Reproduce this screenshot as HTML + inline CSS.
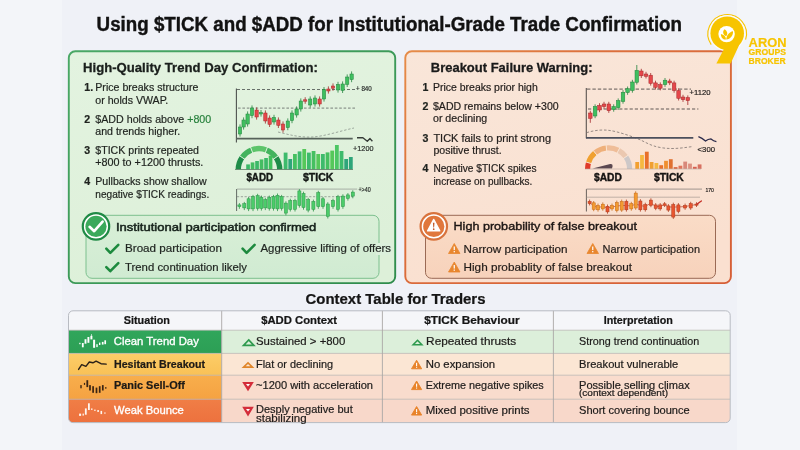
<!DOCTYPE html>
<html lang="en"><head><meta charset="utf-8"><title>Using $TICK and $ADD for Institutional-Grade Trade Confirmation</title>
<style>
html,body{margin:0;padding:0;background:#f2f4f8;}
body{width:800px;height:450px;overflow:hidden;}
svg{display:block;font-family:'Liberation Sans', Arial, sans-serif;}
</style></head>
<body>
<svg width="800" height="450" viewBox="0 0 800 450">
<defs>
<linearGradient id="bg" x1="0" y1="0" x2="1" y2="0"><stop offset="0" stop-color="#f6f7fa"/><stop offset="1" stop-color="#eff2f8"/></linearGradient>
<linearGradient id="gpan" x1="0" y1="0" x2="0.3" y2="1"><stop offset="0" stop-color="#e3f3e0"/><stop offset="1" stop-color="#ddf0d9"/></linearGradient>
<linearGradient id="opan" x1="0" y1="0" x2="0.3" y2="1"><stop offset="0" stop-color="#f9e6d9"/><stop offset="1" stop-color="#fae0d0"/></linearGradient>
<linearGradient id="ostroke" x1="0" y1="0" x2="1" y2="1"><stop offset="0" stop-color="#e68c48"/><stop offset="0.3" stop-color="#dc703c"/><stop offset="1" stop-color="#d65e36"/></linearGradient>
<linearGradient id="gstroke" x1="0" y1="0" x2="1" y2="1"><stop offset="0" stop-color="#4aa866"/><stop offset="1" stop-color="#2f8c4c"/></linearGradient>
<linearGradient id="ginner" x1="0" y1="0" x2="0" y2="1"><stop offset="0" stop-color="#d9efd7"/><stop offset="1" stop-color="#d0ebd2"/></linearGradient>
<linearGradient id="oinner" x1="0" y1="0" x2="0" y2="1"><stop offset="0" stop-color="#fadcc7"/><stop offset="1" stop-color="#f7d2bb"/></linearGradient>
<linearGradient id="r1" x1="0" y1="0" x2="0" y2="1"><stop offset="0" stop-color="#31a65b"/><stop offset="1" stop-color="#2c9f55"/></linearGradient>
<linearGradient id="r2" x1="0" y1="0" x2="0" y2="1"><stop offset="0" stop-color="#fccd68"/><stop offset="1" stop-color="#f9c156"/></linearGradient>
<linearGradient id="r3" x1="0" y1="0" x2="0" y2="1"><stop offset="0" stop-color="#f8ae4c"/><stop offset="1" stop-color="#f5a242"/></linearGradient>
<linearGradient id="r4" x1="0" y1="0" x2="0" y2="1"><stop offset="0" stop-color="#f07e46"/><stop offset="1" stop-color="#ed713e"/></linearGradient>
</defs>
<rect x="0" y="0" width="800" height="450" fill="#f3f5f9"/>
<rect x="62" y="0" width="675" height="450" fill="#eff1f7"/>
<text x="96.6" y="30.9" font-size="19.5" font-weight="700" fill="#121212" stroke="#121212" stroke-width="0.4" textLength="585.4" lengthAdjust="spacingAndGlyphs" text-anchor="start" >Using $TICK and $ADD for Institutional-Grade Trade Confirmation</text>
<rect x="68.8" y="51.3" width="326.4" height="231.8" rx="6.5" fill="url(#gpan)" stroke="url(#gstroke)" stroke-width="1.9"/>
<rect x="405.3" y="51.3" width="325.6" height="231.8" rx="6.5" fill="url(#opan)" stroke="url(#ostroke)" stroke-width="1.9"/>
<text x="83" y="71.6" font-size="13.5" font-weight="700" fill="#1a1f1c" stroke="#1a1f1c" stroke-width="0.3" textLength="235.0" lengthAdjust="spacingAndGlyphs" text-anchor="start" >High-Quality Trend Day Confirmation:</text>
<text x="430.8" y="71.6" font-size="13.6" font-weight="700" fill="#1a1a1a" stroke="#1a1a1a" stroke-width="0.3" textLength="161.7" lengthAdjust="spacingAndGlyphs" text-anchor="start" >Breakout Failure Warning:</text>
<text x="84.3" y="91.3" font-size="10.6" font-weight="700" fill="#1f231f" stroke="#1f231f" stroke-width="0.22" text-anchor="start" >1.</text>
<text x="95.3" y="91.3" font-size="10.6" font-weight="400" fill="#1f231f" stroke="#1f231f" stroke-width="0.2" textLength="103.1" lengthAdjust="spacingAndGlyphs" text-anchor="start" >Price breaks structure</text>
<text x="95.3" y="104.1" font-size="10.6" font-weight="400" fill="#1f231f" stroke="#1f231f" stroke-width="0.2" text-anchor="start" >or holds VWAP.</text>
<text x="84.3" y="122.8" font-size="10.6" font-weight="700" fill="#1f231f" stroke="#1f231f" stroke-width="0.22" text-anchor="start" >2</text>
<text x="95.3" y="122.8" font-size="10.6" fill="#1f231f" stroke="#1f231f" stroke-width="0.18" textLength="115.9" lengthAdjust="spacingAndGlyphs">$ADD holds above <tspan fill="#27803c" stroke="#27803c">+800</tspan></text>
<text x="95.3" y="135.2" font-size="10.6" font-weight="400" fill="#1f231f" stroke="#1f231f" stroke-width="0.2" text-anchor="start" >and trends higher.</text>
<text x="84.3" y="153.9" font-size="10.6" font-weight="700" fill="#1f231f" stroke="#1f231f" stroke-width="0.22" text-anchor="start" >3</text>
<text x="95.3" y="153.9" font-size="10.6" font-weight="400" fill="#1f231f" stroke="#1f231f" stroke-width="0.2" text-anchor="start" >$TICK prints repeated</text>
<text x="95.3" y="166.3" font-size="10.6" font-weight="400" fill="#1f231f" stroke="#1f231f" stroke-width="0.2" textLength="108.0" lengthAdjust="spacingAndGlyphs" text-anchor="start" >+800 to +1200 thrusts.</text>
<text x="84.3" y="185.4" font-size="10.6" font-weight="700" fill="#1f231f" stroke="#1f231f" stroke-width="0.22" text-anchor="start" >4</text>
<text x="95.3" y="185.4" font-size="10.6" font-weight="400" fill="#1f231f" stroke="#1f231f" stroke-width="0.2" text-anchor="start" >Pullbacks show shallow</text>
<text x="95.3" y="197.8" font-size="10.6" font-weight="400" fill="#1f231f" stroke="#1f231f" stroke-width="0.2" textLength="113.9" lengthAdjust="spacingAndGlyphs" text-anchor="start" >negative $TICK readings.</text>
<text x="422.5" y="90.6" font-size="10.6" font-weight="700" fill="#1f231f" stroke="#1f231f" stroke-width="0.22" text-anchor="start" >1</text>
<text x="433" y="90.6" font-size="10.6" font-weight="400" fill="#211d1b" stroke="#211d1b" stroke-width="0.2" textLength="104.7" lengthAdjust="spacingAndGlyphs" text-anchor="start" >Price breaks prior high</text>
<text x="422.5" y="109.8" font-size="10.6" font-weight="700" fill="#1f231f" stroke="#1f231f" stroke-width="0.22" text-anchor="start" >2</text>
<text x="433" y="109.8" font-size="10.6" font-weight="400" fill="#211d1b" stroke="#211d1b" stroke-width="0.2" textLength="125.6" lengthAdjust="spacingAndGlyphs" text-anchor="start" >$ADD remains below +300</text>
<text x="433" y="122.1" font-size="10.6" font-weight="400" fill="#211d1b" stroke="#211d1b" stroke-width="0.2" text-anchor="start" >or declining</text>
<text x="422.5" y="141.6" font-size="10.6" font-weight="700" fill="#1f231f" stroke="#1f231f" stroke-width="0.22" text-anchor="start" >3</text>
<text x="433.4" y="141.6" font-size="10.6" font-weight="400" fill="#211d1b" stroke="#211d1b" stroke-width="0.2" textLength="117.6" lengthAdjust="spacingAndGlyphs" text-anchor="start" >TICK fails to print strong</text>
<text x="433.4" y="153.6" font-size="10.6" font-weight="400" fill="#211d1b" stroke="#211d1b" stroke-width="0.2" text-anchor="start" >positive thrust.</text>
<text x="422.5" y="172.4" font-size="10.6" font-weight="700" fill="#1f231f" stroke="#1f231f" stroke-width="0.22" text-anchor="start" >4</text>
<text x="433.4" y="172.4" font-size="10.6" font-weight="400" fill="#211d1b" stroke="#211d1b" stroke-width="0.2" textLength="103.2" lengthAdjust="spacingAndGlyphs" text-anchor="start" >Negative $TICK spikes</text>
<text x="433.4" y="185" font-size="10.6" font-weight="400" fill="#211d1b" stroke="#211d1b" stroke-width="0.2" textLength="99.0" lengthAdjust="spacingAndGlyphs" text-anchor="start" >increase on pullbacks.</text>
<rect x="86" y="215.3" width="293" height="63" rx="6" fill="url(#ginner)" stroke="#7cc08e" stroke-width="1"/>
<rect x="425.5" y="215.3" width="290" height="63" rx="6" fill="url(#oinner)" stroke="#9a6a55" stroke-width="1"/>
<rect x="376" y="243" width="16" height="12" fill="#dcf0dc"/>
<circle cx="96" cy="226.4" r="13.2" fill="#ffffff" stroke="#1f8a45" stroke-width="2.2"/>
<circle cx="96" cy="226.4" r="10.6" fill="#3aa95b"/>
<path d="M89.6 226.8 L94.2 231.2 L102.6 221.6" fill="none" stroke="#fff" stroke-width="2.6" stroke-linecap="round" stroke-linejoin="round"/>
<text x="116" y="230.8" font-size="11.7" font-weight="400" fill="#15211a" stroke="#15211a" stroke-width="0.5" textLength="200.3" lengthAdjust="spacingAndGlyphs" text-anchor="start" >Institutional participation confirmed</text>
<path d="M106.3 248.7 L110.3 252.79999999999998 L118.3 244.79999999999998" fill="none" stroke="#1d8a3e" stroke-width="2.6" stroke-linecap="round" stroke-linejoin="round"/>
<text x="125" y="252.3" font-size="11.2" font-weight="400" fill="#1f2420" stroke="#1f2420" stroke-width="0.2" textLength="97.0" lengthAdjust="spacingAndGlyphs" text-anchor="start" >Broad participation</text>
<path d="M242.6 248.7 L246.6 252.79999999999998 L254.6 244.79999999999998" fill="none" stroke="#1d8a3e" stroke-width="2.6" stroke-linecap="round" stroke-linejoin="round"/>
<text x="260.5" y="252.3" font-size="11.2" font-weight="400" fill="#1f2420" stroke="#1f2420" stroke-width="0.2" textLength="130.5" lengthAdjust="spacingAndGlyphs" text-anchor="start" >Aggressive lifting of offers</text>
<path d="M106.3 267.1 L110.3 271.20000000000005 L118.3 263.20000000000005" fill="none" stroke="#1d8a3e" stroke-width="2.6" stroke-linecap="round" stroke-linejoin="round"/>
<text x="125" y="270.6" font-size="11.2" font-weight="400" fill="#1f2420" stroke="#1f2420" stroke-width="0.2" textLength="122.0" lengthAdjust="spacingAndGlyphs" text-anchor="start" >Trend continuation likely</text>
<circle cx="433.8" cy="226.4" r="13.2" fill="#fff" stroke="#d8733d" stroke-width="2.2"/>
<circle cx="433.8" cy="226.4" r="10.6" fill="#e0773c"/>
<path d="M433.7 219.4 L439.8 230.9 L427.6 230.9 Z" fill="#fff" stroke="#fff" stroke-width="1.3" stroke-linejoin="round"/>
<path d="M432.9 222.8 L434.5 222.8 L434.1 227.6 L433.3 227.6 Z" fill="#c25a2a"/><circle cx="433.7" cy="229.2" r="0.85" fill="#c25a2a"/>
<text x="453.5" y="230.2" font-size="11.7" font-weight="400" fill="#1c1614" stroke="#1c1614" stroke-width="0.38" textLength="183.5" lengthAdjust="spacingAndGlyphs" text-anchor="start" >High probability of false breakout</text>
<path d="M454.25 243.5 L460.0 253.5 L448.5 253.5 Z" fill="#e8862e" stroke="#e8862e" stroke-width="0.8" stroke-linejoin="round"/>
<rect x="453.65" y="246.5" width="1.2" height="3.6" fill="#fff"/><rect x="453.65" y="251.0" width="1.2" height="1.3" fill="#fff"/>
<text x="463.5" y="252.5" font-size="11.2" font-weight="400" fill="#231d1a" stroke="#231d1a" stroke-width="0.2" textLength="104.0" lengthAdjust="spacingAndGlyphs" text-anchor="start" >Narrow participation</text>
<path d="M592.75 243.5 L598.5 253.5 L587 253.5 Z" fill="#e8862e" stroke="#e8862e" stroke-width="0.8" stroke-linejoin="round"/>
<rect x="592.15" y="246.5" width="1.2" height="3.6" fill="#fff"/><rect x="592.15" y="251.0" width="1.2" height="1.3" fill="#fff"/>
<text x="602.5" y="252.5" font-size="11.2" font-weight="400" fill="#231d1a" stroke="#231d1a" stroke-width="0.2" textLength="97.5" lengthAdjust="spacingAndGlyphs" text-anchor="start" >Narrow participation</text>
<path d="M454.25 262 L460.0 272 L448.5 272 Z" fill="#e8862e" stroke="#e8862e" stroke-width="0.8" stroke-linejoin="round"/>
<rect x="453.65" y="265" width="1.2" height="3.6" fill="#fff"/><rect x="453.65" y="269.5" width="1.2" height="1.3" fill="#fff"/>
<text x="463.5" y="271" font-size="11.2" font-weight="400" fill="#231d1a" stroke="#231d1a" stroke-width="0.2" textLength="168.5" lengthAdjust="spacingAndGlyphs" text-anchor="start" >High probablity of false breakout</text>
<text x="305.5" y="303.5" font-size="14.2" font-weight="700" fill="#151515" stroke="#151515" stroke-width="0.22" textLength="180.0" lengthAdjust="spacingAndGlyphs" text-anchor="start" >Context Table for Traders</text>
<clipPath id="tclip"><rect x="68.5" y="310.8" width="661.7" height="111.80000000000001" rx="4.5"/></clipPath>
<g clip-path="url(#tclip)">
<rect x="68.5" y="310.8" width="661.7" height="19.399999999999977" fill="#f5f6f9"/>
<rect x="68.5" y="330.2" width="153.2" height="23.19999999999999" fill="url(#r1)"/>
<rect x="221.7" y="330.2" width="508.50000000000006" height="23.19999999999999" fill="#dcefda"/>
<rect x="68.5" y="353.4" width="153.2" height="21.80000000000001" fill="url(#r2)"/>
<rect x="221.7" y="353.4" width="508.50000000000006" height="21.80000000000001" fill="#fbe6d4"/>
<rect x="68.5" y="375.2" width="153.2" height="24.0" fill="url(#r3)"/>
<rect x="221.7" y="375.2" width="508.50000000000006" height="24.0" fill="#f9dccd"/>
<rect x="68.5" y="399.2" width="153.2" height="23.400000000000034" fill="url(#r4)"/>
<rect x="221.7" y="399.2" width="508.50000000000006" height="23.400000000000034" fill="#f8d8ca"/>
</g>
<line x1="68.5" y1="330.2" x2="730.2" y2="330.2" stroke="#b9b4b0" stroke-width="0.9" opacity="0.8"/>
<line x1="68.5" y1="353.4" x2="730.2" y2="353.4" stroke="#b9b4b0" stroke-width="0.9" opacity="0.8"/>
<line x1="68.5" y1="375.2" x2="730.2" y2="375.2" stroke="#b9b4b0" stroke-width="0.9" opacity="0.8"/>
<line x1="68.5" y1="399.2" x2="730.2" y2="399.2" stroke="#b9b4b0" stroke-width="0.9" opacity="0.8"/>
<line x1="221.7" y1="310.8" x2="221.7" y2="422.6" stroke="#aaa7a5" stroke-width="0.9"/>
<line x1="382.4" y1="310.8" x2="382.4" y2="422.6" stroke="#aaa7a5" stroke-width="0.9"/>
<line x1="553.4" y1="310.8" x2="553.4" y2="422.6" stroke="#aaa7a5" stroke-width="0.9"/>
<rect x="68.5" y="310.8" width="661.7" height="111.80000000000001" rx="4.5" fill="none" stroke="#b8bbc2" stroke-width="1"/>
<text x="123.7" y="323.6" font-size="10.5" font-weight="700" fill="#161616" stroke="#161616" stroke-width="0.22" textLength="46.3" lengthAdjust="spacingAndGlyphs" text-anchor="start" >Situation</text>
<text x="261.2" y="323.6" font-size="10.5" font-weight="700" fill="#161616" stroke="#161616" stroke-width="0.22" textLength="75.8" lengthAdjust="spacingAndGlyphs" text-anchor="start" >$ADD Context</text>
<text x="424.3" y="323.6" font-size="10.5" font-weight="700" fill="#161616" stroke="#161616" stroke-width="0.22" textLength="95.2" lengthAdjust="spacingAndGlyphs" text-anchor="start" >$TICK Behaviour</text>
<text x="603.7" y="323.6" font-size="10.5" font-weight="700" fill="#161616" stroke="#161616" stroke-width="0.22" textLength="69.1" lengthAdjust="spacingAndGlyphs" text-anchor="start" >Interpretation</text>
<text x="113.8" y="345.3" font-size="11.2" font-weight="400" fill="#ffffff" stroke="#ffffff" stroke-width="0.32" textLength="85.0" lengthAdjust="spacingAndGlyphs" text-anchor="start" >Clean Trend Day</text>
<text x="114" y="367.5" font-size="10.9" font-weight="700" fill="#1d1a16" stroke="#1d1a16" stroke-width="0.22" textLength="91.1" lengthAdjust="spacingAndGlyphs" text-anchor="start" >Hesitant Breakout</text>
<text x="114" y="389" font-size="10.9" font-weight="700" fill="#1d1a16" stroke="#1d1a16" stroke-width="0.22" textLength="70.9" lengthAdjust="spacingAndGlyphs" text-anchor="start" >Panic Sell-Off</text>
<text x="114" y="413.8" font-size="11.2" font-weight="400" fill="#ffffff" stroke="#ffffff" stroke-width="0.32" textLength="69.8" lengthAdjust="spacingAndGlyphs" text-anchor="start" >Weak Bounce</text>
<rect x="79.25" y="342.80" width="1.3" height="1.40" fill="#ffffff"/>
<rect x="81.90" y="343.00" width="1.8" height="4.30" fill="#ffffff"/>
<rect x="84.55" y="339.20" width="1.9" height="4.50" fill="#ffffff"/>
<rect x="87.45" y="337.00" width="1.9" height="5.80" fill="#ffffff"/>
<rect x="90.40" y="335.80" width="2" height="3.60" fill="#ffffff"/>
<rect x="91.10" y="334.00" width="0.6" height="2.00" fill="#ffffff"/>
<rect x="93.10" y="339.70" width="2" height="8.10" fill="#ffffff"/>
<rect x="96.30" y="344.20" width="1.4" height="2.90" fill="#ffffff"/>
<rect x="99.00" y="342.60" width="1.4" height="2.40" fill="#ffffff"/>
<rect x="101.85" y="341.90" width="1.7" height="2.70" fill="#ffffff"/>
<rect x="104.35" y="340.30" width="1.7" height="3.90" fill="#ffffff"/>
<path d="M78.6 369.4 L81.7 364.6 L85.9 366.4 L89.3 362 L92.9 362.8 L96.1 361.1 L101 363.7 L106.2 364.1" fill="none" stroke="#2b2118" stroke-width="1.4" stroke-linejoin="round" stroke-linecap="round"/>
<rect x="80.30" y="385.10" width="1.4" height="3.20" fill="#3a2413"/>
<rect x="83.90" y="382.90" width="1.2" height="2.00" fill="#3a2413"/>
<rect x="86.40" y="380.20" width="1.8" height="6.90" fill="#3a2413"/>
<rect x="89.15" y="385.10" width="1.7" height="5.40" fill="#3a2413"/>
<rect x="92.25" y="386.20" width="1.7" height="6.60" fill="#3a2413"/>
<rect x="95.65" y="387.60" width="1.7" height="5.60" fill="#3a2413"/>
<rect x="98.85" y="386.20" width="1.7" height="6.60" fill="#3a2413"/>
<rect x="101.95" y="385.10" width="1.7" height="5.40" fill="#3a2413"/>
<rect x="105.15" y="387.10" width="1.3" height="1.60" fill="#3a2413"/>
<rect x="79.10" y="413.60" width="2" height="2.30" fill="#fff6ee"/>
<rect x="82.55" y="413.60" width="1.3" height="2.00" fill="#fff6ee"/>
<rect x="84.90" y="408.40" width="1.8" height="6.30" fill="#fff6ee"/>
<rect x="88.00" y="403.30" width="1.8" height="6.70" fill="#fff6ee"/>
<rect x="91.15" y="408.40" width="1.3" height="1.60" fill="#fff6ee"/>
<rect x="94.20" y="409.60" width="1.4" height="1.30" fill="#fff6ee"/>
<rect x="97.35" y="410.00" width="1.5" height="2.00" fill="#fff6ee"/>
<rect x="100.50" y="410.90" width="1.6" height="3.20" fill="#fff6ee"/>
<rect x="104.15" y="412.50" width="1.5" height="1.10" fill="#fff6ee"/>
<path d="M248.7 339.95000000000005 L253.85000000000002 345.34999999999997 L243.54999999999998 345.34999999999997 Z" fill="none" stroke="#2e9a4e" stroke-width="1.7" stroke-linejoin="miter"/>
<text x="256" y="345" font-size="11.1" font-weight="400" fill="#1d1b1a" stroke="#1d1b1a" stroke-width="0.2" textLength="89.3" lengthAdjust="spacingAndGlyphs" text-anchor="start" >Sustained &gt; +800</text>
<path d="M248.0 362.8 L252.5 367.09999999999997 L243.5 367.09999999999997 Z" fill="none" stroke="#e0862a" stroke-width="1.6" stroke-linejoin="miter"/>
<text x="256" y="367.6" font-size="11.1" font-weight="400" fill="#1d1b1a" stroke="#1d1b1a" stroke-width="0.2" textLength="77.2" lengthAdjust="spacingAndGlyphs" text-anchor="start" >Flat or declining</text>
<path d="M242.2 382 L253.79999999999998 382 L248.0 391.2 Z" fill="#d42d3a"/>
<path d="M246.028 384.024 L249.97199999999998 384.024 L248.0 386.416 Z" fill="#fff"/>
<text x="256" y="388.7" font-size="11.1" font-weight="400" fill="#1d1b1a" stroke="#1d1b1a" stroke-width="0.2" textLength="117.0" lengthAdjust="spacingAndGlyphs" text-anchor="start" >~1200 with acceleration</text>
<path d="M242.2 406.8 L253.79999999999998 406.8 L248.0 416.40000000000003 Z" fill="#d42d3a"/>
<path d="M246.028 408.91200000000003 L249.97199999999998 408.91200000000003 L248.0 411.408 Z" fill="#fff"/>
<text x="256" y="413.1" font-size="11.1" font-weight="400" fill="#1d1b1a" stroke="#1d1b1a" stroke-width="0.2" textLength="96.8" lengthAdjust="spacingAndGlyphs" text-anchor="start" >Desply negative but</text>
<text x="256" y="421.7" font-size="11.1" font-weight="400" fill="#1d1b1a" stroke="#1d1b1a" stroke-width="0.2" textLength="50.6" lengthAdjust="spacingAndGlyphs" text-anchor="start" >stabilizing</text>
<path d="M417.5 340.3 L421.8 344.7 L413.2 344.7 Z" fill="none" stroke="#2e9a4e" stroke-width="1.6" stroke-linejoin="miter"/>
<text x="426.1" y="345" font-size="11.1" font-weight="400" fill="#1d1b1a" stroke="#1d1b1a" stroke-width="0.2" textLength="90.0" lengthAdjust="spacingAndGlyphs" text-anchor="start" >Repeated thrusts</text>
<path d="M416.6 360.2 L421.7 368.8 L411.5 368.8 Z" fill="#e8832a" stroke="#e8832a" stroke-width="0.9" stroke-linejoin="round"/>
<rect x="416.05" y="362.8" width="1.1" height="3.2" fill="#fff"/><rect x="416.05" y="366.7" width="1.1" height="1.1" fill="#fff"/>
<text x="425.7" y="367.6" font-size="11.1" font-weight="400" fill="#1d1b1a" stroke="#1d1b1a" stroke-width="0.2" textLength="69.5" lengthAdjust="spacingAndGlyphs" text-anchor="start" >No expansion</text>
<path d="M416.6 381 L421.7 389.6 L411.5 389.6 Z" fill="#e8832a" stroke="#e8832a" stroke-width="0.9" stroke-linejoin="round"/>
<rect x="416.05" y="383.6" width="1.1" height="3.2" fill="#fff"/><rect x="416.05" y="387.5" width="1.1" height="1.1" fill="#fff"/>
<text x="425.7" y="388.7" font-size="11.1" font-weight="400" fill="#1d1b1a" stroke="#1d1b1a" stroke-width="0.2" textLength="118.1" lengthAdjust="spacingAndGlyphs" text-anchor="start" >Extreme negative spikes</text>
<path d="M416.6 406.5 L421.7 415.1 L411.5 415.1 Z" fill="#e8832a" stroke="#e8832a" stroke-width="0.9" stroke-linejoin="round"/>
<rect x="416.05" y="409.1" width="1.1" height="3.2" fill="#fff"/><rect x="416.05" y="413.0" width="1.1" height="1.1" fill="#fff"/>
<text x="425.7" y="414" font-size="11.1" font-weight="400" fill="#1d1b1a" stroke="#1d1b1a" stroke-width="0.2" textLength="103.9" lengthAdjust="spacingAndGlyphs" text-anchor="start" >Mixed positive prints</text>
<text x="579" y="344.9" font-size="11.1" font-weight="400" fill="#1d1b1a" stroke="#1d1b1a" stroke-width="0.2" textLength="120.2" lengthAdjust="spacingAndGlyphs" text-anchor="start" >Strong trend continuation</text>
<text x="579" y="367.8" font-size="11.1" font-weight="400" fill="#1d1b1a" stroke="#1d1b1a" stroke-width="0.2" textLength="99.3" lengthAdjust="spacingAndGlyphs" text-anchor="start" >Breakout vulnerable</text>
<text x="579" y="388.5" font-size="11.1" font-weight="400" fill="#1d1b1a" stroke="#1d1b1a" stroke-width="0.2" textLength="110.7" lengthAdjust="spacingAndGlyphs" text-anchor="start" >Possible selling climax</text>
<text x="579" y="396.4" font-size="8.6" font-weight="400" fill="#1d1b1a" stroke="#1d1b1a" stroke-width="0.2" textLength="89.0" lengthAdjust="spacingAndGlyphs" text-anchor="start" >(context dependent)</text>
<text x="579" y="414.1" font-size="11.1" font-weight="400" fill="#1d1b1a" stroke="#1d1b1a" stroke-width="0.2" textLength="110.7" lengthAdjust="spacingAndGlyphs" text-anchor="start" >Short covering bounce</text>
<line x1="236.4" y1="88.5" x2="236.4" y2="142.5" stroke="#4d524f" stroke-width="1.1"/>
<line x1="237" y1="89.5" x2="355" y2="89.5" stroke="#59605b" stroke-width="0.9" stroke-dasharray="3 2"/>
<line x1="238" y1="108.1" x2="355" y2="108.1" stroke="#6c726e" stroke-width="0.9" stroke-dasharray="2.6 1.8"/>
<path d="M278 132 C 290 135, 300 137.5, 312 137 S 340 131, 354 128" fill="none" stroke="#8a938c" stroke-width="0.8" stroke-dasharray="2.4 1.8"/>
<line x1="236" y1="138.6" x2="352.7" y2="138.6" stroke="#56625a" stroke-width="1.8"/>
<path d="M357 137.8 L362.9 137.8 L367.3 141.3 L370 138.6 L372.4 141.3" fill="none" stroke="#353b37" stroke-width="1.4" stroke-linejoin="round"/>
<text x="356" y="91.3" font-size="6.6" font-weight="400" fill="#2b2f2c" stroke="#2b2f2c" stroke-width="0.2" textLength="15.8" lengthAdjust="spacingAndGlyphs" text-anchor="start" >+ 840</text>
<text x="353.1" y="151.4" font-size="7.3" font-weight="400" fill="#2b2f2c" stroke="#2b2f2c" stroke-width="0.2" textLength="20.4" lengthAdjust="spacingAndGlyphs" text-anchor="start" >+1200</text>
<line x1="240" y1="124.4" x2="240" y2="136.6" stroke="#23843d" stroke-width="0.8"/>
<rect x="238.35" y="127.00" width="3.3" height="7.00" fill="#3fbf5f" stroke="#23843d" stroke-width="0.5"/>
<line x1="243.6" y1="117.4" x2="243.6" y2="129.6" stroke="#23843d" stroke-width="0.8"/>
<rect x="241.95" y="120.00" width="3.3" height="7.00" fill="#3fbf5f" stroke="#23843d" stroke-width="0.5"/>
<line x1="247.6" y1="111.4" x2="247.6" y2="126.6" stroke="#23843d" stroke-width="0.8"/>
<rect x="245.95" y="114.00" width="3.3" height="10.00" fill="#3fbf5f" stroke="#23843d" stroke-width="0.5"/>
<line x1="252" y1="105.4" x2="252" y2="118.2" stroke="#23843d" stroke-width="0.8"/>
<rect x="250.35" y="108.00" width="3.3" height="7.60" fill="#3fbf5f" stroke="#23843d" stroke-width="0.5"/>
<line x1="256.6" y1="107.4" x2="256.6" y2="119.6" stroke="#a3282b" stroke-width="0.8"/>
<rect x="254.95" y="110.00" width="3.3" height="7.00" fill="#e5474a" stroke="#a3282b" stroke-width="0.5"/>
<line x1="261" y1="110.0" x2="261" y2="116.6" stroke="#23843d" stroke-width="0.8"/>
<rect x="259.35" y="112.60" width="3.3" height="1.40" fill="#3fbf5f" stroke="#23843d" stroke-width="0.5"/>
<line x1="265.4" y1="110.4" x2="265.4" y2="123.6" stroke="#a3282b" stroke-width="0.8"/>
<rect x="263.75" y="113.00" width="3.3" height="8.00" fill="#e5474a" stroke="#a3282b" stroke-width="0.5"/>
<line x1="269.6" y1="115.4" x2="269.6" y2="127.0" stroke="#a3282b" stroke-width="0.8"/>
<rect x="267.95" y="118.00" width="3.3" height="6.40" fill="#e5474a" stroke="#a3282b" stroke-width="0.5"/>
<line x1="274" y1="114.8" x2="274" y2="124.6" stroke="#23843d" stroke-width="0.8"/>
<rect x="272.35" y="117.40" width="3.3" height="4.60" fill="#3fbf5f" stroke="#23843d" stroke-width="0.5"/>
<line x1="278.4" y1="117.4" x2="278.4" y2="128.0" stroke="#a3282b" stroke-width="0.8"/>
<rect x="276.75" y="120.00" width="3.3" height="5.40" fill="#e5474a" stroke="#a3282b" stroke-width="0.5"/>
<line x1="283" y1="121.4" x2="283" y2="132.6" stroke="#a3282b" stroke-width="0.8"/>
<rect x="281.35" y="124.00" width="3.3" height="6.00" fill="#e5474a" stroke="#a3282b" stroke-width="0.5"/>
<line x1="287.8" y1="118.4" x2="287.8" y2="130.2" stroke="#23843d" stroke-width="0.8"/>
<rect x="286.15" y="121.00" width="3.3" height="6.60" fill="#3fbf5f" stroke="#23843d" stroke-width="0.5"/>
<line x1="292" y1="110.4" x2="292" y2="123.2" stroke="#23843d" stroke-width="0.8"/>
<rect x="290.35" y="113.00" width="3.3" height="7.60" fill="#3fbf5f" stroke="#23843d" stroke-width="0.5"/>
<line x1="296.6" y1="106.4" x2="296.6" y2="117.6" stroke="#23843d" stroke-width="0.8"/>
<rect x="294.95" y="109.00" width="3.3" height="6.00" fill="#3fbf5f" stroke="#23843d" stroke-width="0.5"/>
<line x1="300.8" y1="98.4" x2="300.8" y2="111.6" stroke="#23843d" stroke-width="0.8"/>
<rect x="299.15" y="101.00" width="3.3" height="8.00" fill="#3fbf5f" stroke="#23843d" stroke-width="0.5"/>
<line x1="305.2" y1="97.2" x2="305.2" y2="103.8" stroke="#a3282b" stroke-width="0.8"/>
<rect x="303.55" y="99.80" width="3.3" height="1.40" fill="#e5474a" stroke="#a3282b" stroke-width="0.5"/>
<line x1="310.2" y1="96.4" x2="310.2" y2="107.6" stroke="#23843d" stroke-width="0.8"/>
<rect x="308.55" y="99.00" width="3.3" height="6.00" fill="#3fbf5f" stroke="#23843d" stroke-width="0.5"/>
<line x1="315" y1="95.4" x2="315" y2="106.6" stroke="#23843d" stroke-width="0.8"/>
<rect x="313.35" y="98.00" width="3.3" height="6.00" fill="#3fbf5f" stroke="#23843d" stroke-width="0.5"/>
<line x1="319.6" y1="96.4" x2="319.6" y2="106.6" stroke="#a3282b" stroke-width="0.8"/>
<rect x="317.95" y="99.00" width="3.3" height="5.00" fill="#e5474a" stroke="#a3282b" stroke-width="0.5"/>
<line x1="324" y1="87.0" x2="324" y2="101.6" stroke="#23843d" stroke-width="0.8"/>
<rect x="322.35" y="89.60" width="3.3" height="9.40" fill="#3fbf5f" stroke="#23843d" stroke-width="0.5"/>
<line x1="328.4" y1="86.4" x2="328.4" y2="93.6" stroke="#a3282b" stroke-width="0.8"/>
<rect x="326.75" y="89.00" width="3.3" height="2.00" fill="#e5474a" stroke="#a3282b" stroke-width="0.5"/>
<line x1="333" y1="83.4" x2="333" y2="90.8" stroke="#a3282b" stroke-width="0.8"/>
<rect x="331.35" y="86.00" width="3.3" height="2.20" fill="#e5474a" stroke="#a3282b" stroke-width="0.5"/>
<line x1="338" y1="81.8" x2="338" y2="92.6" stroke="#23843d" stroke-width="0.8"/>
<rect x="336.35" y="84.40" width="3.3" height="5.60" fill="#3fbf5f" stroke="#23843d" stroke-width="0.5"/>
<line x1="342.6" y1="81.4" x2="342.6" y2="93.0" stroke="#23843d" stroke-width="0.8"/>
<rect x="340.95" y="84.00" width="3.3" height="6.40" fill="#3fbf5f" stroke="#23843d" stroke-width="0.5"/>
<line x1="347.2" y1="74.4" x2="347.2" y2="87.0" stroke="#23843d" stroke-width="0.8"/>
<rect x="345.55" y="77.00" width="3.3" height="7.40" fill="#3fbf5f" stroke="#23843d" stroke-width="0.5"/>
<line x1="351.6" y1="71.4" x2="351.6" y2="82.2" stroke="#23843d" stroke-width="0.8"/>
<rect x="349.95" y="74.00" width="3.3" height="5.60" fill="#3fbf5f" stroke="#23843d" stroke-width="0.5"/>
<path d="M235.60 169.30 A23.4 23.4 0 0 1 239.83 155.88 L244.26 158.98 A18.0 18.0 0 0 0 241.00 169.30 Z" fill="#1f8c49"/>
<path d="M239.83 155.88 A23.4 23.4 0 0 1 250.61 147.45 L252.55 152.50 A18.0 18.0 0 0 0 244.26 158.98 Z" fill="#43b35e"/>
<path d="M250.61 147.45 A23.4 23.4 0 0 1 267.39 147.45 L265.45 152.50 A18.0 18.0 0 0 0 252.55 152.50 Z" fill="#5cc46a"/>
<path d="M267.39 147.45 A23.4 23.4 0 0 1 278.17 155.88 L273.74 158.98 A18.0 18.0 0 0 0 265.45 152.50 Z" fill="#43b35e"/>
<path d="M278.17 155.88 A23.4 23.4 0 0 1 282.40 169.30 L277.00 169.30 A18.0 18.0 0 0 0 273.74 158.98 Z" fill="#1f8c49"/>
<line x1="245.07" y1="159.55" x2="239.34" y2="155.53" stroke="#e6f4e4" stroke-width="0.9"/>
<line x1="252.91" y1="153.43" x2="250.40" y2="146.89" stroke="#e6f4e4" stroke-width="0.9"/>
<line x1="265.09" y1="153.43" x2="267.60" y2="146.89" stroke="#e6f4e4" stroke-width="0.9"/>
<line x1="272.93" y1="159.55" x2="278.66" y2="155.53" stroke="#e6f4e4" stroke-width="0.9"/>
<rect x="246.2" y="164.4" width="3.7" height="4.9" fill="#3cb868"/>
<rect x="250.7" y="162.4" width="3.7" height="6.9" fill="#44bd62"/>
<rect x="255.2" y="161" width="3.7" height="8.3" fill="#3cb868"/>
<rect x="259.7" y="159.4" width="3.7" height="9.9" fill="#44bd62"/>
<rect x="264.2" y="158" width="3.7" height="11.3" fill="#3cb868"/>
<rect x="268.7" y="155.6" width="3.7" height="13.7" fill="#3fbf5a"/>
<rect x="283.70" y="152.6" width="3.8" height="16.7" fill="#3dbb6c"/>
<rect x="288.36" y="159" width="3.8" height="10.3" fill="#2ea57a"/>
<rect x="293.02" y="154" width="3.8" height="15.3" fill="#45c060"/>
<rect x="297.68" y="151.4" width="3.8" height="17.9" fill="#3dbb6c"/>
<rect x="302.34" y="149" width="3.8" height="20.3" fill="#55c85a"/>
<rect x="307.00" y="152.6" width="3.8" height="16.7" fill="#3dbb6c"/>
<rect x="311.66" y="151" width="3.8" height="18.3" fill="#45c060"/>
<rect x="316.32" y="154" width="3.8" height="15.3" fill="#55c85a"/>
<rect x="320.98" y="154" width="3.8" height="15.3" fill="#3dbb6c"/>
<rect x="325.64" y="152.4" width="3.8" height="16.9" fill="#45c060"/>
<rect x="330.30" y="150.6" width="3.8" height="18.7" fill="#55c85a"/>
<rect x="334.96" y="145" width="3.8" height="24.3" fill="#4cc664"/>
<rect x="339.62" y="151" width="3.8" height="18.3" fill="#3dbb6c"/>
<rect x="344.28" y="159" width="3.8" height="10.3" fill="#2ea57a"/>
<rect x="348.94" y="157" width="3.8" height="12.3" fill="#2ea57a"/>
<line x1="235" y1="169.5" x2="353" y2="169.5" stroke="#4a6a55" stroke-width="0.7"/>
<text x="246.4" y="180.9" font-size="10.6" font-weight="700" fill="#141815" stroke="#141815" stroke-width="0.4" textLength="26.6" lengthAdjust="spacingAndGlyphs" text-anchor="start" >$ADD</text>
<text x="303" y="180.9" font-size="10.6" font-weight="700" fill="#141815" stroke="#141815" stroke-width="0.4" textLength="30.3" lengthAdjust="spacingAndGlyphs" text-anchor="start" >$TICK</text>
<line x1="236.6" y1="189" x2="236.6" y2="211" stroke="#555b57" stroke-width="0.9"/>
<line x1="237" y1="189.1" x2="357.2" y2="189.1" stroke="#8e948f" stroke-width="0.7"/>
<line x1="237" y1="196.7" x2="354.6" y2="196.7" stroke="#7d847f" stroke-width="0.7" stroke-dasharray="2.2 1.6"/>
<text x="358.5" y="191.8" font-size="6.3" font-weight="400" fill="#2b2f2c" stroke="#2b2f2c" stroke-width="0.2" textLength="12.2" lengthAdjust="spacingAndGlyphs" text-anchor="start" >+&gt;40</text>
<line x1="239.4" y1="203.1" x2="239.4" y2="208.8" stroke="#2a9447" stroke-width="0.8"/>
<rect x="237.85" y="204.90" width="3.1" height="1.70" fill="#4ccc6a" stroke="#2a9447" stroke-width="0.5"/>
<line x1="244.3" y1="201.9" x2="244.3" y2="210.1" stroke="#2a9447" stroke-width="0.8"/>
<rect x="242.75" y="203.70" width="3.1" height="4.20" fill="#4ccc6a" stroke="#2a9447" stroke-width="0.5"/>
<line x1="248.6" y1="197.0" x2="248.6" y2="211.1" stroke="#2a9447" stroke-width="0.8"/>
<rect x="247.05" y="198.80" width="3.1" height="10.10" fill="#4ccc6a" stroke="#2a9447" stroke-width="0.5"/>
<line x1="253" y1="194.9" x2="253" y2="211.1" stroke="#2a9447" stroke-width="0.8"/>
<rect x="251.45" y="196.70" width="3.1" height="12.20" fill="#4ccc6a" stroke="#2a9447" stroke-width="0.5"/>
<line x1="257.6" y1="193.8" x2="257.6" y2="210.6" stroke="#2a9447" stroke-width="0.8"/>
<rect x="256.05" y="195.60" width="3.1" height="12.80" fill="#4ccc6a" stroke="#2a9447" stroke-width="0.5"/>
<line x1="261.4" y1="195.6" x2="261.4" y2="210.6" stroke="#2a9447" stroke-width="0.8"/>
<rect x="259.85" y="197.40" width="3.1" height="11.00" fill="#4ccc6a" stroke="#2a9447" stroke-width="0.5"/>
<line x1="265.3" y1="197.8" x2="265.3" y2="210.1" stroke="#2a9447" stroke-width="0.8"/>
<rect x="263.75" y="199.60" width="3.1" height="8.30" fill="#4ccc6a" stroke="#2a9447" stroke-width="0.5"/>
<line x1="269.3" y1="195.6" x2="269.3" y2="210.6" stroke="#2a9447" stroke-width="0.8"/>
<rect x="267.75" y="197.40" width="3.1" height="11.00" fill="#4ccc6a" stroke="#2a9447" stroke-width="0.5"/>
<line x1="273.5" y1="194.9" x2="273.5" y2="210.6" stroke="#2a9447" stroke-width="0.8"/>
<rect x="271.95" y="196.70" width="3.1" height="11.70" fill="#4ccc6a" stroke="#2a9447" stroke-width="0.5"/>
<line x1="277.5" y1="193.5" x2="277.5" y2="211.1" stroke="#2a9447" stroke-width="0.8"/>
<rect x="275.95" y="195.30" width="3.1" height="13.60" fill="#4ccc6a" stroke="#2a9447" stroke-width="0.5"/>
<line x1="281.6" y1="194.9" x2="281.6" y2="210.6" stroke="#2a9447" stroke-width="0.8"/>
<rect x="280.05" y="196.70" width="3.1" height="11.70" fill="#4ccc6a" stroke="#2a9447" stroke-width="0.5"/>
<line x1="285.9" y1="201.3" x2="285.9" y2="215.3" stroke="#2a9447" stroke-width="0.8"/>
<rect x="284.35" y="203.10" width="3.1" height="10.00" fill="#4ccc6a" stroke="#2a9447" stroke-width="0.5"/>
<line x1="290.3" y1="198.7" x2="290.3" y2="211.5" stroke="#2a9447" stroke-width="0.8"/>
<rect x="288.75" y="200.50" width="3.1" height="8.80" fill="#4ccc6a" stroke="#2a9447" stroke-width="0.5"/>
<line x1="295" y1="198.7" x2="295" y2="211.5" stroke="#2a9447" stroke-width="0.8"/>
<rect x="293.45" y="200.50" width="3.1" height="8.80" fill="#4ccc6a" stroke="#2a9447" stroke-width="0.5"/>
<line x1="299.4" y1="189.1" x2="299.4" y2="207.6" stroke="#2a9447" stroke-width="0.8"/>
<rect x="297.85" y="190.90" width="3.1" height="14.50" fill="#4ccc6a" stroke="#2a9447" stroke-width="0.5"/>
<line x1="303.5" y1="191.7" x2="303.5" y2="209.7" stroke="#2a9447" stroke-width="0.8"/>
<rect x="301.95" y="193.50" width="3.1" height="14.00" fill="#4ccc6a" stroke="#2a9447" stroke-width="0.5"/>
<line x1="308.2" y1="197.8" x2="308.2" y2="212.3" stroke="#2a9447" stroke-width="0.8"/>
<rect x="306.65" y="199.60" width="3.1" height="10.50" fill="#4ccc6a" stroke="#2a9447" stroke-width="0.5"/>
<line x1="313.4" y1="199.6" x2="313.4" y2="211.5" stroke="#2a9447" stroke-width="0.8"/>
<rect x="311.85" y="201.40" width="3.1" height="7.90" fill="#4ccc6a" stroke="#2a9447" stroke-width="0.5"/>
<line x1="318.3" y1="190.8" x2="318.3" y2="208.8" stroke="#2a9447" stroke-width="0.8"/>
<rect x="316.75" y="192.60" width="3.1" height="14.00" fill="#4ccc6a" stroke="#2a9447" stroke-width="0.5"/>
<line x1="323" y1="197.0" x2="323" y2="208.8" stroke="#2a9447" stroke-width="0.8"/>
<rect x="321.45" y="198.80" width="3.1" height="7.80" fill="#4ccc6a" stroke="#2a9447" stroke-width="0.5"/>
<line x1="327.8" y1="202.2" x2="327.8" y2="218.5" stroke="#2a9447" stroke-width="0.8"/>
<rect x="326.25" y="204.00" width="3.1" height="12.30" fill="#4ccc6a" stroke="#2a9447" stroke-width="0.5"/>
<line x1="333" y1="198.7" x2="333" y2="208.8" stroke="#2a9447" stroke-width="0.8"/>
<rect x="331.45" y="200.50" width="3.1" height="6.10" fill="#4ccc6a" stroke="#2a9447" stroke-width="0.5"/>
<line x1="338" y1="194.9" x2="338" y2="211.5" stroke="#2a9447" stroke-width="0.8"/>
<rect x="336.45" y="196.70" width="3.1" height="12.60" fill="#4ccc6a" stroke="#2a9447" stroke-width="0.5"/>
<line x1="342.9" y1="194.3" x2="342.9" y2="208.8" stroke="#2a9447" stroke-width="0.8"/>
<rect x="341.35" y="196.10" width="3.1" height="10.50" fill="#4ccc6a" stroke="#2a9447" stroke-width="0.5"/>
<line x1="347.9" y1="193.1" x2="347.9" y2="200.6" stroke="#2a9447" stroke-width="0.8"/>
<rect x="346.35" y="194.90" width="3.1" height="3.50" fill="#4ccc6a" stroke="#2a9447" stroke-width="0.5"/>
<line x1="352.8" y1="190.3" x2="352.8" y2="198.3" stroke="#2a9447" stroke-width="0.8"/>
<rect x="351.25" y="192.10" width="3.1" height="4.00" fill="#4ccc6a" stroke="#2a9447" stroke-width="0.5"/>
<line x1="586.3" y1="88" x2="586.3" y2="138.3" stroke="#5a5350" stroke-width="1.1"/>
<line x1="587" y1="89.1" x2="691" y2="89.1" stroke="#4e4846" stroke-width="0.9" stroke-dasharray="3.4 2"/>
<line x1="588" y1="109" x2="698.4" y2="109" stroke="#4e4846" stroke-width="0.9" stroke-dasharray="3.2 2"/>
<path d="M586.5 132.7 C 595 130, 603 129.5, 610 130.5 S 628 135, 637 138.5 S 650 146, 662 147.8 S 685 147.5, 693 146.5" fill="none" stroke="#7e7470" stroke-width="0.8" stroke-dasharray="2.6 1.8"/>
<line x1="586" y1="137.9" x2="693.3" y2="137.9" stroke="#4b4f5c" stroke-width="1.6"/>
<path d="M698.4 136.7 Q 702 138, 705.5 141.1 Q 708 139, 711 138.9 Q 713.5 141, 716.4 141.6" fill="none" stroke="#2a2a4a" stroke-width="1.3" stroke-linejoin="round"/>
<text x="689.5" y="94.6" font-size="7.3" font-weight="400" fill="#2a2624" stroke="#2a2624" stroke-width="0.2" textLength="21.0" lengthAdjust="spacingAndGlyphs" text-anchor="start" >+1120</text>
<text x="697.6" y="151.8" font-size="7.3" font-weight="400" fill="#2a2624" stroke="#2a2624" stroke-width="0.2" textLength="17.4" lengthAdjust="spacingAndGlyphs" text-anchor="start" >&lt;300</text>
<line x1="590.3" y1="110.8" x2="590.3" y2="122.8" stroke="#a3282b" stroke-width="0.8"/>
<rect x="588.50" y="113.00" width="3.6" height="5.40" fill="#e5474a" stroke="#a3282b" stroke-width="0.5"/>
<line x1="595.1" y1="104.3" x2="595.1" y2="118.2" stroke="#23843d" stroke-width="0.8"/>
<rect x="593.30" y="106.50" width="3.6" height="9.50" fill="#3fbf5f" stroke="#23843d" stroke-width="0.5"/>
<line x1="599.5" y1="103.2" x2="599.5" y2="112.2" stroke="#a3282b" stroke-width="0.8"/>
<rect x="597.70" y="105.40" width="3.6" height="4.60" fill="#e5474a" stroke="#a3282b" stroke-width="0.5"/>
<line x1="604" y1="101.8" x2="604" y2="108.7" stroke="#a3282b" stroke-width="0.8"/>
<rect x="602.20" y="104.00" width="3.6" height="2.50" fill="#e5474a" stroke="#a3282b" stroke-width="0.5"/>
<line x1="608.8" y1="101.8" x2="608.8" y2="112.9" stroke="#a3282b" stroke-width="0.8"/>
<rect x="607.00" y="104.00" width="3.6" height="6.70" fill="#e5474a" stroke="#a3282b" stroke-width="0.5"/>
<line x1="613.7" y1="104.3" x2="613.7" y2="111.7" stroke="#23843d" stroke-width="0.8"/>
<rect x="611.90" y="106.50" width="3.6" height="3.00" fill="#3fbf5f" stroke="#23843d" stroke-width="0.5"/>
<line x1="618.2" y1="98.4" x2="618.2" y2="109.9" stroke="#23843d" stroke-width="0.8"/>
<rect x="616.40" y="100.60" width="3.6" height="7.10" fill="#3fbf5f" stroke="#23843d" stroke-width="0.5"/>
<line x1="623" y1="90.1" x2="623" y2="103.7" stroke="#23843d" stroke-width="0.8"/>
<rect x="621.20" y="92.30" width="3.6" height="9.20" fill="#3fbf5f" stroke="#23843d" stroke-width="0.5"/>
<line x1="627.6" y1="86.5" x2="627.6" y2="94.8" stroke="#23843d" stroke-width="0.8"/>
<rect x="625.80" y="88.70" width="3.6" height="3.90" fill="#3fbf5f" stroke="#23843d" stroke-width="0.5"/>
<line x1="632.4" y1="79.8" x2="632.4" y2="92.7" stroke="#23843d" stroke-width="0.8"/>
<rect x="630.60" y="82.00" width="3.6" height="8.50" fill="#3fbf5f" stroke="#23843d" stroke-width="0.5"/>
<line x1="636.8" y1="65.0" x2="636.8" y2="84.5" stroke="#23843d" stroke-width="0.8"/>
<rect x="635.00" y="70.40" width="3.6" height="11.90" fill="#3fbf5f" stroke="#23843d" stroke-width="0.5"/>
<line x1="641.3" y1="68.8" x2="641.3" y2="78.0" stroke="#a3282b" stroke-width="0.8"/>
<rect x="639.50" y="71.00" width="3.6" height="4.80" fill="#e5474a" stroke="#a3282b" stroke-width="0.5"/>
<line x1="646" y1="71.8" x2="646" y2="78.5" stroke="#a3282b" stroke-width="0.8"/>
<rect x="644.20" y="74.00" width="3.6" height="2.30" fill="#e5474a" stroke="#a3282b" stroke-width="0.5"/>
<line x1="650.7" y1="73.0" x2="650.7" y2="85.6" stroke="#a3282b" stroke-width="0.8"/>
<rect x="648.90" y="75.20" width="3.6" height="8.20" fill="#e5474a" stroke="#a3282b" stroke-width="0.5"/>
<line x1="655.5" y1="80.7" x2="655.5" y2="89.5" stroke="#a3282b" stroke-width="0.8"/>
<rect x="653.70" y="82.90" width="3.6" height="4.40" fill="#e5474a" stroke="#a3282b" stroke-width="0.5"/>
<line x1="660.3" y1="82.4" x2="660.3" y2="90.4" stroke="#a3282b" stroke-width="0.8"/>
<rect x="658.50" y="84.60" width="3.6" height="3.60" fill="#e5474a" stroke="#a3282b" stroke-width="0.5"/>
<line x1="665" y1="78.0" x2="665" y2="86.8" stroke="#23843d" stroke-width="0.8"/>
<rect x="663.20" y="80.20" width="3.6" height="4.40" fill="#3fbf5f" stroke="#23843d" stroke-width="0.5"/>
<line x1="669.7" y1="78.8" x2="669.7" y2="85.1" stroke="#a3282b" stroke-width="0.8"/>
<rect x="667.90" y="81.00" width="3.6" height="1.90" fill="#e5474a" stroke="#a3282b" stroke-width="0.5"/>
<line x1="674.1" y1="80.7" x2="674.1" y2="92.7" stroke="#a3282b" stroke-width="0.8"/>
<rect x="672.30" y="82.90" width="3.6" height="7.60" fill="#e5474a" stroke="#a3282b" stroke-width="0.5"/>
<line x1="678.6" y1="88.3" x2="678.6" y2="100.5" stroke="#a3282b" stroke-width="0.8"/>
<rect x="676.80" y="90.50" width="3.6" height="7.80" fill="#e5474a" stroke="#a3282b" stroke-width="0.5"/>
<line x1="683" y1="94.8" x2="683" y2="101.9" stroke="#a3282b" stroke-width="0.8"/>
<rect x="681.20" y="97.00" width="3.6" height="2.70" fill="#e5474a" stroke="#a3282b" stroke-width="0.5"/>
<line x1="687.8" y1="95.4" x2="687.8" y2="105.0" stroke="#a3282b" stroke-width="0.8"/>
<rect x="686.00" y="97.60" width="3.6" height="3.00" fill="#e5474a" stroke="#a3282b" stroke-width="0.5"/>
<path d="M585.00 168.90 A23.6 23.6 0 0 1 586.03 162.00 L591.00 163.52 A18.4 18.4 0 0 0 590.20 168.90 Z" fill="#e03a2a"/>
<path d="M586.03 162.00 A23.6 23.6 0 0 1 593.43 150.82 L596.77 154.80 A18.4 18.4 0 0 0 591.00 163.52 Z" fill="#f0a030"/>
<path d="M593.43 150.82 A23.6 23.6 0 0 1 606.13 145.43 L606.68 150.60 A18.4 18.4 0 0 0 596.77 154.80 Z" fill="#efb07a"/>
<path d="M606.13 145.43 A23.6 23.6 0 0 1 619.68 148.06 L617.24 152.65 A18.4 18.4 0 0 0 606.68 150.60 Z" fill="#efbd98"/>
<path d="M619.68 148.06 A23.6 23.6 0 0 1 627.93 155.36 L623.67 158.35 A18.4 18.4 0 0 0 617.24 152.65 Z" fill="#ebc8b0"/>
<path d="M627.93 155.36 A23.6 23.6 0 0 1 632.20 168.90 L627.00 168.90 A18.4 18.4 0 0 0 623.67 158.35 Z" fill="#cdc8c8"/>
<line x1="592.34" y1="163.93" x2="585.65" y2="161.88" stroke="#fbe6d6" stroke-width="0.9"/>
<line x1="597.67" y1="155.88" x2="593.17" y2="150.51" stroke="#fbe6d6" stroke-width="0.9"/>
<line x1="606.82" y1="151.99" x2="606.09" y2="145.03" stroke="#fbe6d6" stroke-width="0.9"/>
<line x1="616.58" y1="153.89" x2="619.87" y2="147.71" stroke="#fbe6d6" stroke-width="0.9"/>
<line x1="622.53" y1="159.15" x2="628.26" y2="155.13" stroke="#fbe6d6" stroke-width="0.9"/>
<path d="M592.5 168.6 L610.2 164 Q612.8 163.6 612.6 166 L612 168.6 Z" fill="#5b4850"/>
<rect x="635.30" y="162" width="3.8" height="6.9" fill="#f2a030"/>
<rect x="640.10" y="155" width="3.8" height="13.9" fill="#f5b840"/>
<rect x="644.90" y="151.7" width="3.8" height="17.2" fill="#e8702a"/>
<rect x="649.70" y="162" width="3.8" height="6.9" fill="#f0a030"/>
<rect x="654.50" y="163" width="3.8" height="5.9" fill="#f5b840"/>
<rect x="659.30" y="165.2" width="3.8" height="3.7" fill="#e8702a"/>
<rect x="664.10" y="160.8" width="3.8" height="8.1" fill="#ef8f30"/>
<rect x="668.90" y="159.2" width="3.8" height="9.7" fill="#e07030"/>
<rect x="673.70" y="167.2" width="3.8" height="1.7" fill="#d85a30"/>
<rect x="678.50" y="165.7" width="3.8" height="3.2" fill="#e0745a"/>
<rect x="683.30" y="161.6" width="3.8" height="7.3" fill="#d8887a"/>
<rect x="688.10" y="163.6" width="3.8" height="5.3" fill="#dd9080"/>
<rect x="692.90" y="166.8" width="3.8" height="2.1" fill="#d86050"/>
<rect x="697.70" y="164.4" width="3.8" height="4.5" fill="#d87060"/>
<line x1="585" y1="169.0" x2="701" y2="169.0" stroke="#b8a8a0" stroke-width="0.6"/>
<text x="594" y="180.8" font-size="10.6" font-weight="700" fill="#161413" stroke="#161413" stroke-width="0.4" textLength="27.8" lengthAdjust="spacingAndGlyphs" text-anchor="start" >$ADD</text>
<text x="654" y="180.8" font-size="10.6" font-weight="700" fill="#161413" stroke="#161413" stroke-width="0.4" textLength="29.8" lengthAdjust="spacingAndGlyphs" text-anchor="start" >$TICK</text>
<line x1="586.4" y1="189.1" x2="586.4" y2="211.5" stroke="#5a5350" stroke-width="0.9"/>
<line x1="586.4" y1="189.1" x2="702" y2="189.1" stroke="#8a817c" stroke-width="0.8"/>
<line x1="586.4" y1="197.2" x2="700" y2="197.2" stroke="#9a908a" stroke-width="0.6"/>
<polyline points="589.6,202.5 593.7,206 598,207.5 602.8,206.5 607.5,208 612,207 616.8,206 621.7,205.5 626.4,205.5 631.3,206 635.7,204 640.4,205.5 645.3,206.5 650.9,203 655.7,206.5 660.2,206.5 664.6,204.5 668.4,207 673.3,207 678.4,207 685.1,206.5 690.7,205.5 696.5,204.5 701.7,200.7" fill="none" stroke="#b8402a" stroke-width="0.7"/>
<text x="705.4" y="191.8" font-size="5.8" font-weight="400" fill="#2a2624" stroke="#2a2624" stroke-width="0.2" textLength="8.6" lengthAdjust="spacingAndGlyphs" text-anchor="start" >170</text>
<line x1="589.6" y1="199.6" x2="589.6" y2="205.4" stroke="#b03a1c" stroke-width="0.8"/>
<rect x="588.05" y="201.40" width="3.1" height="2.20" fill="#e8552f" stroke="#b03a1c" stroke-width="0.5"/>
<line x1="593.7" y1="201.0" x2="593.7" y2="211.2" stroke="#c86a18" stroke-width="0.8"/>
<rect x="592.15" y="202.80" width="3.1" height="6.60" fill="#f29a30" stroke="#c86a18" stroke-width="0.5"/>
<line x1="598" y1="203.6" x2="598" y2="211.6" stroke="#c86a18" stroke-width="0.8"/>
<rect x="596.45" y="205.40" width="3.1" height="4.40" fill="#f29a30" stroke="#c86a18" stroke-width="0.5"/>
<line x1="602.8" y1="202.4" x2="602.8" y2="210.7" stroke="#c86a18" stroke-width="0.8"/>
<rect x="601.25" y="204.20" width="3.1" height="4.70" fill="#f29a30" stroke="#c86a18" stroke-width="0.5"/>
<line x1="607.5" y1="204.5" x2="607.5" y2="213.7" stroke="#b03a1c" stroke-width="0.8"/>
<rect x="605.95" y="206.30" width="3.1" height="5.60" fill="#e8552f" stroke="#b03a1c" stroke-width="0.5"/>
<line x1="612" y1="203.6" x2="612" y2="210.7" stroke="#c86a18" stroke-width="0.8"/>
<rect x="610.45" y="205.40" width="3.1" height="3.50" fill="#f29a30" stroke="#c86a18" stroke-width="0.5"/>
<line x1="616.8" y1="200.6" x2="616.8" y2="212.4" stroke="#c86a18" stroke-width="0.8"/>
<rect x="615.25" y="202.40" width="3.1" height="8.20" fill="#f29a30" stroke="#c86a18" stroke-width="0.5"/>
<line x1="621.7" y1="199.6" x2="621.7" y2="211.9" stroke="#c86a18" stroke-width="0.8"/>
<rect x="620.15" y="201.40" width="3.1" height="8.70" fill="#f29a30" stroke="#c86a18" stroke-width="0.5"/>
<line x1="626.4" y1="199.6" x2="626.4" y2="211.6" stroke="#b03a1c" stroke-width="0.8"/>
<rect x="624.85" y="201.40" width="3.1" height="8.40" fill="#e8552f" stroke="#b03a1c" stroke-width="0.5"/>
<line x1="631.3" y1="201.8" x2="631.3" y2="210.7" stroke="#c86a18" stroke-width="0.8"/>
<rect x="629.75" y="203.60" width="3.1" height="5.30" fill="#f29a30" stroke="#c86a18" stroke-width="0.5"/>
<line x1="635.7" y1="191.3" x2="635.7" y2="209.8" stroke="#c86a18" stroke-width="0.8"/>
<rect x="634.15" y="193.10" width="3.1" height="14.90" fill="#f29a30" stroke="#c86a18" stroke-width="0.5"/>
<line x1="640.4" y1="199.2" x2="640.4" y2="211.6" stroke="#b03a1c" stroke-width="0.8"/>
<rect x="638.85" y="201.00" width="3.1" height="8.80" fill="#e8552f" stroke="#b03a1c" stroke-width="0.5"/>
<line x1="645.3" y1="202.7" x2="645.3" y2="211.6" stroke="#b03a1c" stroke-width="0.8"/>
<rect x="643.75" y="204.50" width="3.1" height="5.30" fill="#e8552f" stroke="#b03a1c" stroke-width="0.5"/>
<line x1="650.9" y1="198.3" x2="650.9" y2="207.2" stroke="#b03a1c" stroke-width="0.8"/>
<rect x="649.35" y="200.10" width="3.1" height="5.30" fill="#e8552f" stroke="#b03a1c" stroke-width="0.5"/>
<line x1="655.7" y1="203.1" x2="655.7" y2="210.2" stroke="#b03a1c" stroke-width="0.8"/>
<rect x="654.15" y="204.90" width="3.1" height="3.50" fill="#e8552f" stroke="#b03a1c" stroke-width="0.5"/>
<line x1="660.2" y1="203.1" x2="660.2" y2="210.7" stroke="#b03a1c" stroke-width="0.8"/>
<rect x="658.65" y="204.90" width="3.1" height="4.00" fill="#e8552f" stroke="#b03a1c" stroke-width="0.5"/>
<line x1="664.6" y1="202.0" x2="664.6" y2="207.0" stroke="#b03a1c" stroke-width="0.8"/>
<rect x="663.05" y="203.80" width="3.1" height="1.40" fill="#e8552f" stroke="#b03a1c" stroke-width="0.5"/>
<line x1="668.4" y1="204.1" x2="668.4" y2="211.9" stroke="#b03a1c" stroke-width="0.8"/>
<rect x="666.85" y="205.90" width="3.1" height="4.20" fill="#e8552f" stroke="#b03a1c" stroke-width="0.5"/>
<line x1="673.3" y1="202.7" x2="673.3" y2="218.9" stroke="#b03a1c" stroke-width="0.8"/>
<rect x="671.75" y="204.50" width="3.1" height="12.60" fill="#e8552f" stroke="#b03a1c" stroke-width="0.5"/>
<line x1="678.4" y1="203.1" x2="678.4" y2="213.3" stroke="#b03a1c" stroke-width="0.8"/>
<rect x="676.85" y="204.90" width="3.1" height="6.60" fill="#e8552f" stroke="#b03a1c" stroke-width="0.5"/>
<line x1="685.1" y1="203.6" x2="685.1" y2="209.8" stroke="#b03a1c" stroke-width="0.8"/>
<rect x="683.55" y="205.40" width="3.1" height="2.60" fill="#e8552f" stroke="#b03a1c" stroke-width="0.5"/>
<line x1="690.7" y1="201.8" x2="690.7" y2="209.8" stroke="#b03a1c" stroke-width="0.8"/>
<rect x="689.15" y="203.60" width="3.1" height="4.40" fill="#e8552f" stroke="#b03a1c" stroke-width="0.5"/>
<line x1="696.5" y1="202.2" x2="696.5" y2="207.0" stroke="#b03a1c" stroke-width="0.8"/>
<rect x="694.95" y="204.00" width="3.1" height="1.20" fill="#e8552f" stroke="#b03a1c" stroke-width="0.5"/>
<path d="M696.5 204.5 L701.7 200.7" stroke="#c8302a" stroke-width="1.2"/>
<path d="M711.2 44.6 A19.3 19.3 0 1 1 745.6 39.6" fill="none" stroke="#f8c400" stroke-width="1.1"/>
<circle cx="727.2" cy="33.3" r="18.1" fill="#fbfbfd"/>
<path d="M743.6 35.5 L730.6 63.6 L716.4 63.6 L725 47 Z" fill="#f7c400"/>
<circle cx="727.2" cy="33.2" r="16.8" fill="#f7c400"/>
<circle cx="726.6" cy="34.1" r="8.2" fill="#ffffff"/>
<path d="M726 36.2 C 722.4 34.5, 722.6 31, 724.6 29.2 C 727.4 31, 728.2 34.2, 726 36.2 Z" fill="#f7c400"/>
<path d="M726 39.6 C 722.5 39.8, 720.8 37, 720.9 34 C 723.8 34.5, 726 36.5, 726 39.6 Z" fill="#f7c400"/>
<path d="M726.2 39.6 C 726.5 35, 729.5 32, 733 31.3 C 733.4 35.5, 730.5 39.2, 726.2 39.6 Z" fill="#f7c400"/>
<text x="748.6" y="47.2" font-size="12.7" font-weight="700" fill="#f7c400" stroke="#f7c400" stroke-width="0.15" textLength="37.9" lengthAdjust="spacingAndGlyphs" text-anchor="start" >ARON</text>
<text x="748.6" y="55.4" font-size="8.4" font-weight="700" fill="#f7c400" stroke="#f7c400" stroke-width="0.2" textLength="37.4" lengthAdjust="spacingAndGlyphs" text-anchor="start" >GROUPS</text>
<text x="748.6" y="63.6" font-size="8.9" font-weight="700" fill="#f7c400" stroke="#f7c400" stroke-width="0.2" textLength="37.0" lengthAdjust="spacingAndGlyphs" text-anchor="start" >BROKER</text>
</svg>
</body></html>
